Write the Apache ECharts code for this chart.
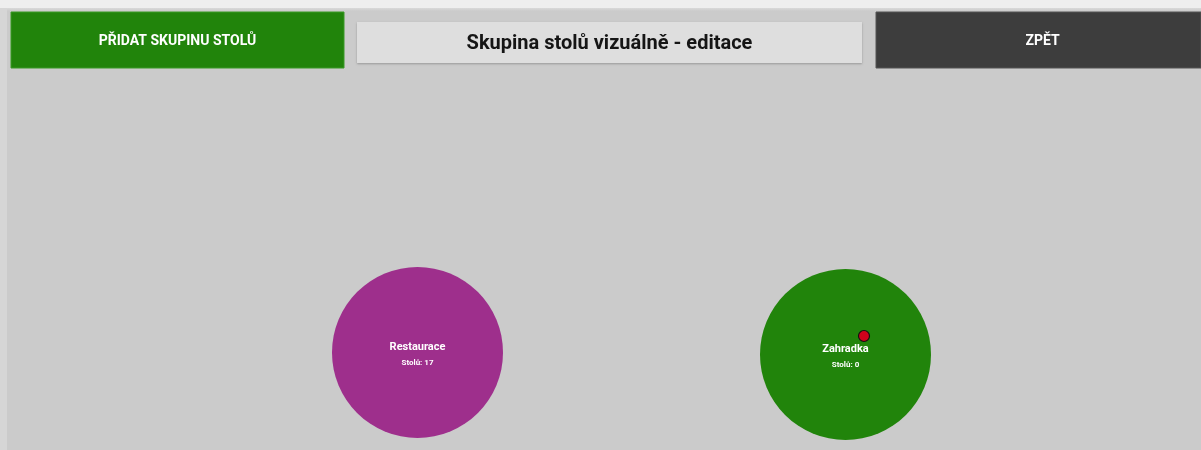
<!DOCTYPE html>
<html>
<head>
<meta charset="utf-8">
<script src="https://cdn.jsdelivr.net/npm/echarts@6/dist/echarts.min.js"></script>
<style>
html,body{margin:0;padding:0;background:#cbcbcb;}
#chart{width:1201px;height:450px;}
</style>
</head>
<body>
<div id="chart"></div>
<script>
// Data
var groupNames = ['Restaurace', 'Zahradka'];
var groupTables = [17, 0];
var groupX = [417.5, 845.5];
var groupY = [352.5, 354.5];
var groupColors = ['#9e2f8c', '#21840b'];
var markerX = [864];
var markerY = [336];
var buttonLabels = ['PŘIDAT SKUPINU STOLŮ', 'ZPĚT'];
var titleText = 'Skupina stolů vizuálně - editace';

var chart = echarts.init(document.getElementById('chart'), null, {renderer: 'canvas'});
var FONT = 'Roboto, "Noto Sans", sans-serif';

var groupData = groupNames.map(function (n, i) {
  return {
    value: [groupX[i], groupY[i]],
    name: n,
    tables: groupTables[i],
    itemStyle: {color: groupColors[i], opacity: 1}
  };
});
var markerData = markerX.map(function (x, i) { return [x, markerY[i]]; });

chart.setOption({
  backgroundColor: '#cbcbcb',
  animation: false,
  grid: {left: 0, right: 0, top: 0, bottom: 0},
  xAxis: {type: 'value', min: 0, max: 1201, show: false},
  yAxis: {type: 'value', min: 0, max: 450, inverse: true, show: false},
  graphic: [
    {type: 'rect', shape: {x: 0, y: 0, width: 1201, height: 8}, style: {fill: '#eeeeee'}, z: 1},
    {type: 'rect', shape: {x: 0, y: 8, width: 1201, height: 3},
      style: {fill: new echarts.graphic.LinearGradient(0, 0, 0, 1, [{offset: 0, color: '#d9d9d9'}, {offset: 1, color: '#cbcbcb'}])}, z: 1},
    {type: 'rect', shape: {x: 0, y: 8, width: 7, height: 442}, style: {fill: '#d6d6d6'}, z: 1},
    // green button
    {type: 'rect', shape: {x: 11, y: 12, width: 333, height: 56}, style: {fill: '#21840b', stroke: '#3a9a26', lineWidth: 1}, z: 2},
    {type: 'text', x: 177.5, y: 41, style: {text: buttonLabels[0], fill: '#ffffff', font: 'bold 14px ' + FONT, textAlign: 'center', textVerticalAlign: 'middle'}, z: 3},
    // title box
    {type: 'rect', shape: {x: 357, y: 22, width: 505, height: 41}, style: {fill: '#dedede', shadowBlur: 2, shadowColor: 'rgba(0,0,0,0.25)', shadowOffsetY: 1}, z: 2},
    {type: 'text', x: 609.5, y: 43.5, style: {text: titleText, fill: '#151515', font: 'bold 20px ' + FONT, textAlign: 'center', textVerticalAlign: 'middle'}, z: 3},
    // dark button
    {type: 'rect', shape: {x: 876, y: 12, width: 325, height: 56}, style: {fill: '#3d3d3d', stroke: '#555555', lineWidth: 1}, z: 2},
    {type: 'text', x: 1042.5, y: 41, style: {text: buttonLabels[1], fill: '#ffffff', font: 'bold 14px ' + FONT, textAlign: 'center', textVerticalAlign: 'middle'}, z: 3}
  ],
  series: [
    {
      type: 'scatter',
      data: groupData,
      symbol: 'circle',
      symbolSize: 171,
      z: 2,
      label: {
        show: true,
        position: 'inside',
        offset: [0, 2],
        formatter: function (p) { return '{n|' + p.data.name + '}\n{s|Stolů: ' + p.data.tables + '}'; },
        rich: {
          n: {color: '#ffffff', fontFamily: FONT, fontWeight: 'bold', fontSize: 11, lineHeight: 16},
          s: {color: '#ffffff', fontFamily: FONT, fontWeight: 'bold', fontSize: 8, lineHeight: 14}
        }
      },
      emphasis: {disabled: true}
    },
    {
      type: 'scatter',
      data: markerData,
      symbol: 'circle',
      symbolSize: 11,
      z: 5,
      itemStyle: {color: '#d0021b', borderColor: '#111111', borderWidth: 1.2, opacity: 1},
      emphasis: {disabled: true}
    }
  ]
});
</script>
</body>
</html>
